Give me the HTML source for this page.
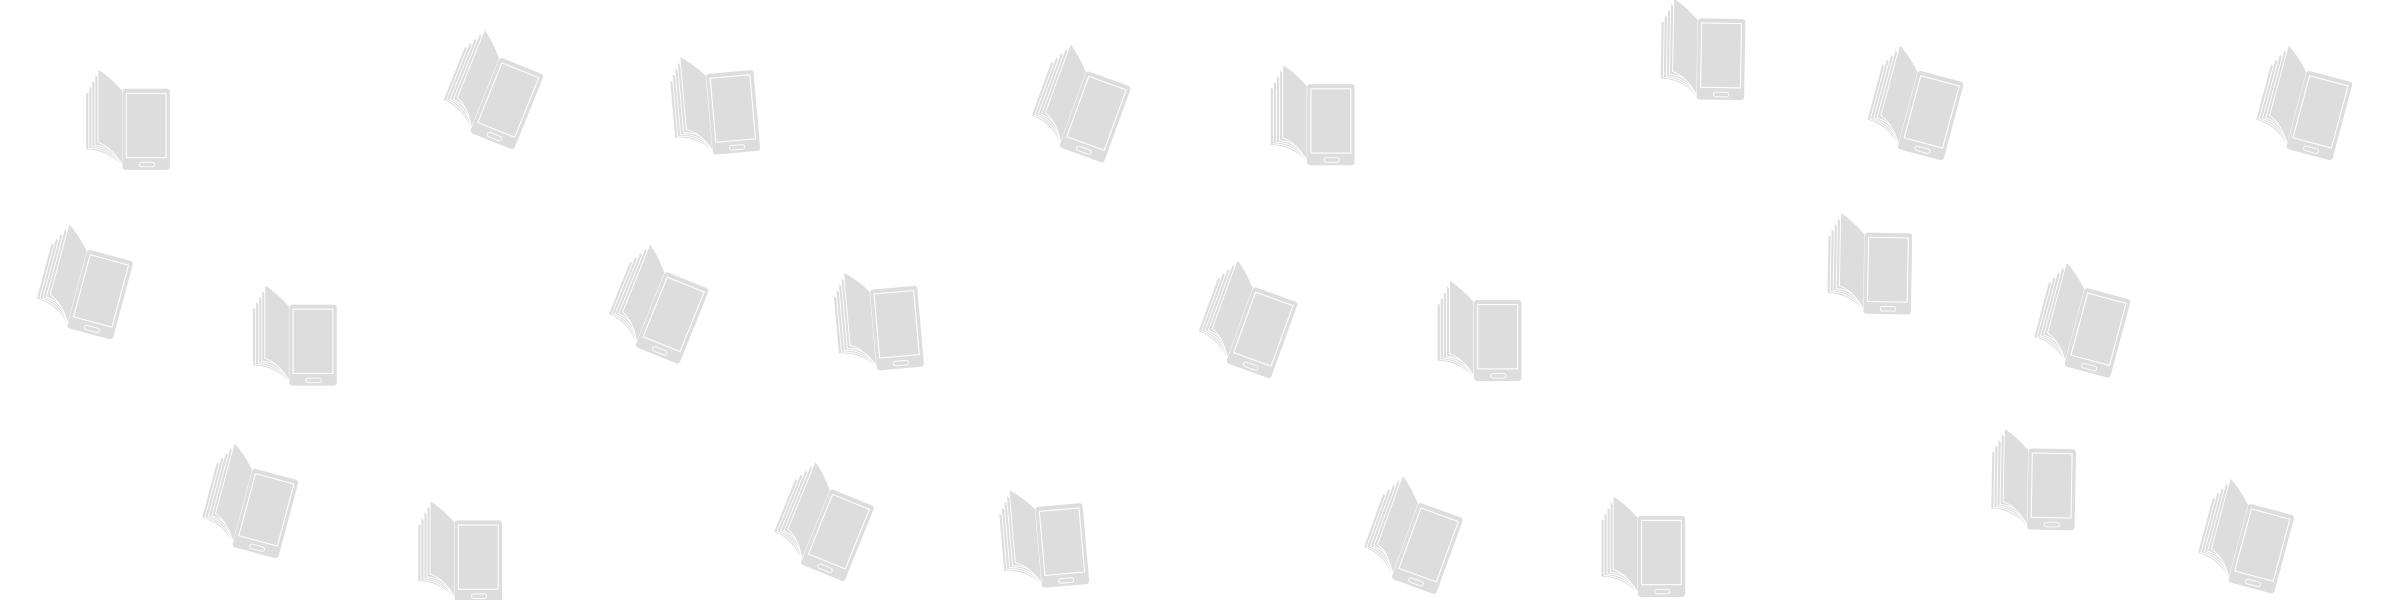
<!DOCTYPE html>
<html><head><meta charset="utf-8"><style>html,body{margin:0;padding:0;background:#fff}svg{display:block}</style></head><body>
<svg width="2400" height="600" viewBox="0 0 1568 392" xmlns="http://www.w3.org/2000/svg">
<defs>
<g id="i">
<path d="M-27,-18 L-27,20 Q-14,20 -4,30 L-4,-8 Z" fill="#ddd" stroke="#fff" stroke-width="0.6"/>
<path d="M-25,-22 L-25,19 Q-13,19 -4,29 L-4,-8 Z" fill="#ddd" stroke="#fff" stroke-width="0.6"/>
<path d="M-23,-26 L-23,18 Q-12,18 -4,28 L-4,-8 Z" fill="#ddd" stroke="#fff" stroke-width="0.6"/>
<path d="M-21,-30 L-21,17 Q-11,17 -4,27 L-4,-8 Z" fill="#ddd" stroke="#fff" stroke-width="0.6"/>
<path d="M-19,-33 Q-11,-28 -3,-19 L-3,30 Q-10,18 -19,15 Z" fill="#ddd" stroke="#fff" stroke-width="0.6"/>
<rect x="-3" y="-20" width="31" height="53" rx="2" fill="#ddd"/>
<rect x="-0.5" y="-17" width="26" height="42" fill="#ddd" stroke="#fff" stroke-width="0.7"/>
<rect x="8" y="28" width="10" height="3" rx="1.5" fill="none" stroke="#fff" stroke-width="0.6"/>
</g>
</defs>
<use href="#i" transform="translate(83,78)"/>
<use href="#i" transform="translate(322,57) rotate(22)"/>
<use href="#i" transform="translate(466,68) rotate(-5)"/>
<use href="#i" transform="translate(706,66) rotate(20)"/>
<use href="#i" transform="translate(857,75)"/>
<use href="#i" transform="translate(1112,32) rotate(1)"/>
<use href="#i" transform="translate(1251,66) rotate(15)"/>
<use href="#i" transform="translate(1505,66) rotate(15)"/>
<use href="#i" transform="translate(55,183) rotate(15)"/>
<use href="#i" transform="translate(192,219)"/>
<use href="#i" transform="translate(430,197) rotate(22)"/>
<use href="#i" transform="translate(573,209) rotate(-5)"/>
<use href="#i" transform="translate(815,207) rotate(20)"/>
<use href="#i" transform="translate(966,216)"/>
<use href="#i" transform="translate(1221,172) rotate(1)"/>
<use href="#i" transform="translate(1360,208) rotate(15)"/>
<use href="#i" transform="translate(163,326) rotate(15)"/>
<use href="#i" transform="translate(300,360)"/>
<use href="#i" transform="translate(538,339) rotate(22)"/>
<use href="#i" transform="translate(681,351) rotate(-5)"/>
<use href="#i" transform="translate(923,348) rotate(20)"/>
<use href="#i" transform="translate(1073,357)"/>
<use href="#i" transform="translate(1328,313) rotate(1)"/>
<use href="#i" transform="translate(1467,349) rotate(15)"/>
</svg>
</body></html>
